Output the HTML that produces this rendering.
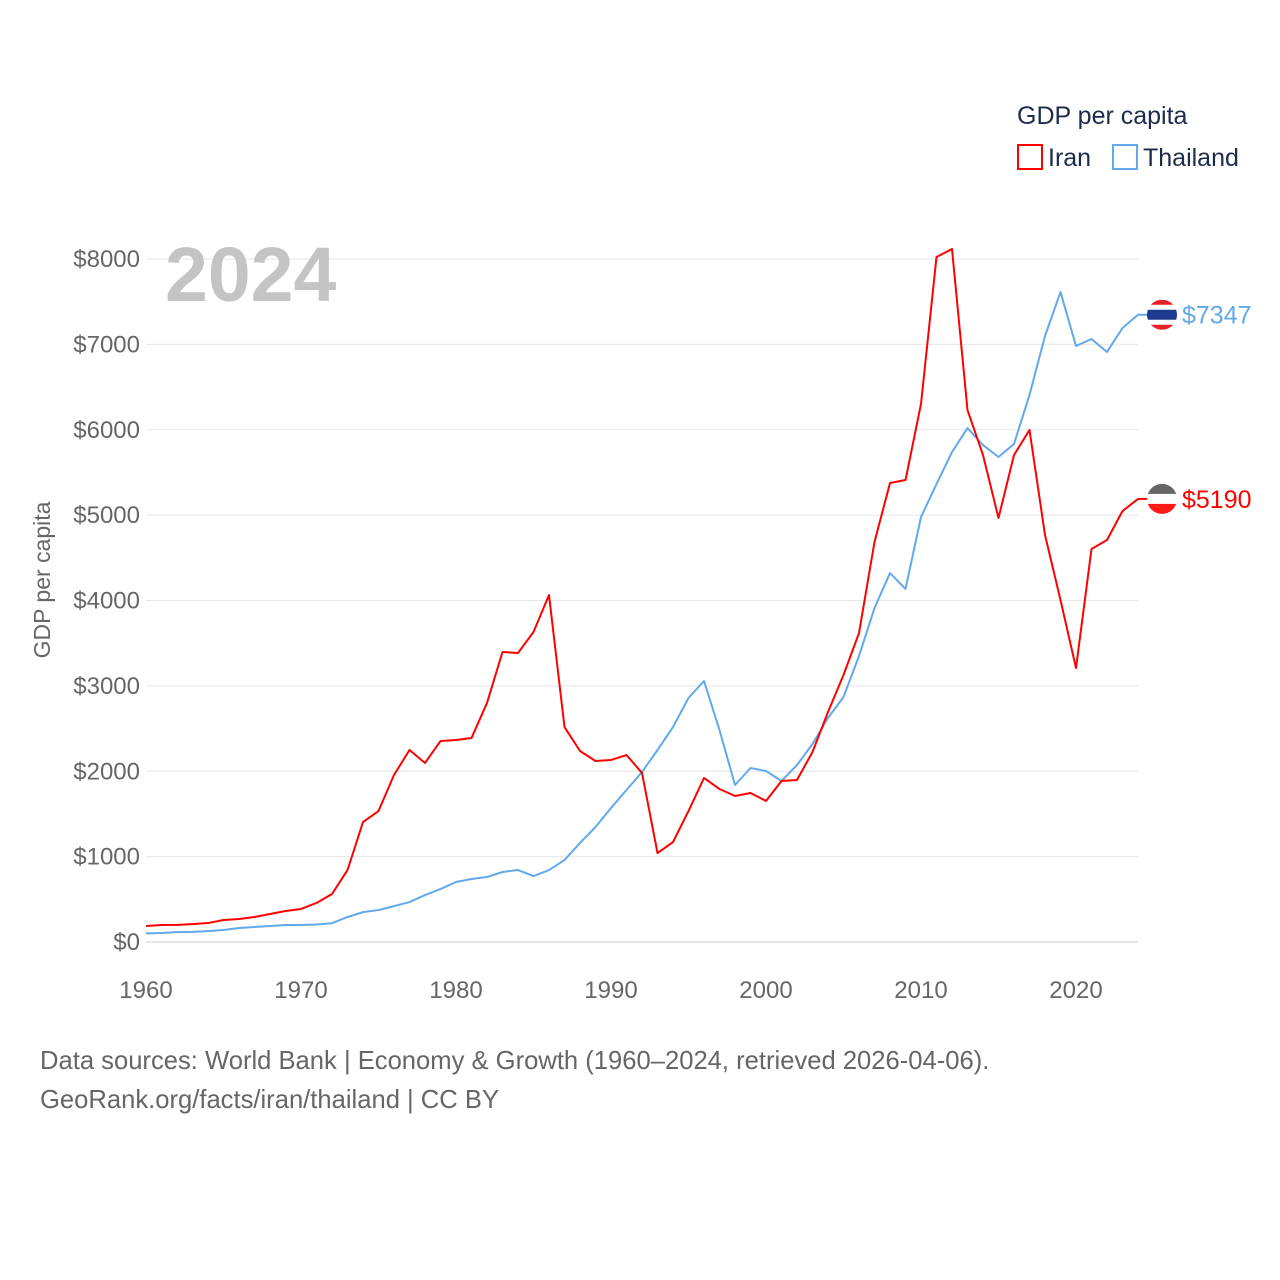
<!DOCTYPE html>
<html><head><meta charset="utf-8"><style>
body{margin:0;background:#fff;font-family:"Liberation Sans",sans-serif}
svg{display:block}
</style></head><body>
<svg id="chart" width="1280" height="1280" xmlns="http://www.w3.org/2000/svg" font-family="Liberation Sans, sans-serif">
<text x="1017" y="124" font-size="25" fill="#1d2b4a">GDP per capita</text>
<g><rect x="1018" y="145" width="24" height="24" fill="none" stroke="#ff0000" stroke-width="2"/><text x="1048" y="166" font-size="25" fill="#1d2b4a">Iran</text></g>
<g><rect x="1113" y="145" width="24" height="24" fill="none" stroke="#62a8ec" stroke-width="2"/><text x="1143" y="166" font-size="25" fill="#1d2b4a">Thailand</text></g>
<g id="grid"></g>
<text x="165" y="301" font-size="77" font-weight="bold" fill="#c4c4c4">2024</text>
<text transform="translate(50,580) rotate(-90)" text-anchor="middle" font-size="23" fill="#666">GDP per capita</text>
<g id="series"></g>
<g id="ends"></g>
<text x="40" y="1069" font-size="25.6" fill="#666">Data sources: World Bank | Economy &amp; Growth (1960–2024, retrieved 2026-04-06).</text>
<text x="40" y="1108" font-size="25.6" fill="#666">GeoRank.org/facts/iran/thailand | CC BY</text>
</svg>
<script>
const years=[];for(let y=1960;y<=2024;y++)years.push(y);
const iran=[187,199,200,210,222,258,270,293,328,363,387,457,562,843,1405,1534,1956,2249,2097,2354,2366,2389,2800,3397,3385,3631,4064,2518,2237,2120,2132,2190,1980,1042,1171,1534,1921,1792,1710,1745,1652,1886,1898,2225,2694,3127,3619,4685,5376,5411,6302,8023,8117,6231,5704,4966,5704,5997,4767,4006,3209,4603,4709,5048,5190];
const thailand=[101,105,115,118,128,140,164,176,187,199,199,205,220,293,350,374,420,468,550,620,703,738,761,820,843,773,843,960,1160,1347,1570,1780,1991,2249,2518,2858,3057,2483,1839,2038,2003,1886,2073,2319,2624,2870,3350,3912,4322,4135,4978,5364,5739,6020,5821,5681,5833,6407,7098,7613,6981,7063,6911,7192,7347];
const yTicks=[0,1000,2000,3000,4000,5000,6000,7000,8000];
const xTicks=[1960,1970,1980,1990,2000,2010,2020];
const NS="http://www.w3.org/2000/svg";
const X=y=>146+(y-1960)*15.5;
const Y=v=>942-v*0.085375;
function mk(t,a,p){const e=document.createElementNS(NS,t);for(const k in a)e.setAttribute(k,a[k]);p.appendChild(e);return e;}
const grid=document.getElementById('grid');
yTicks.forEach(v=>{
 const l=mk('line',{x1:146,x2:1138,y1:Y(v),y2:Y(v),stroke:v===0?'#ccc':'#e6e6e6','stroke-width':1},grid);
 
 
 const t=mk('text',{x:140,y:Y(v)+8,'text-anchor':'end','font-size':24,fill:'#666'},grid);
 t.textContent='$'+v;
 
 
});
xTicks.forEach(yr=>{
 const t=mk('text',{x:X(yr),y:998,'text-anchor':'middle','font-size':24,fill:'#666'},grid);
 t.textContent=yr;
 
 
});
const S=document.getElementById('series');
function line(data,col,name){
 const p=mk('polyline',{points:data.map((v,i)=>X(years[i])+','+Y(v)).join(' '),fill:'none',stroke:col,'stroke-width':2,'stroke-linejoin':'round'},S);
 
 
}
line(thailand,'#62a8ec','thailand-line');
line(iran,'#ff0000','iran-line');
const E=document.getElementById('ends');
function end(data,col,colors,name){
 const v=data[data.length-1],cy=Y(v),cx=1162;
 const g=mk('g',{},E);
 
 
 mk('line',{x1:1138,x2:cx-14,y1:cy,y2:cy,stroke:col,'stroke-width':2},g);
 const id='c'+name;
 const cp=mk('clipPath',{id:id},g);mk('circle',{cx:cx,cy:cy,r:15},cp);
 const h=30/colors.length;
 colors.forEach((c,i)=>mk('rect',{x:cx-15,y:cy-15+i*h,width:30,height:h+0.5,fill:c,'clip-path':'url(#'+id+')'},g));
 const t=mk('text',{x:1182,y:cy+9,'font-size':25,fill:col},g);t.textContent='$'+v;
}
end(thailand,'#62a8ec',['#e8202a','#fff','#1e3a8f','#1e3a8f','#fff','#e8202a'],'thailand-end-label');
end(iran,'#ff0000',['#666','#fff','#ff1a1a'],'iran-end-label');
</script>
</body></html>
